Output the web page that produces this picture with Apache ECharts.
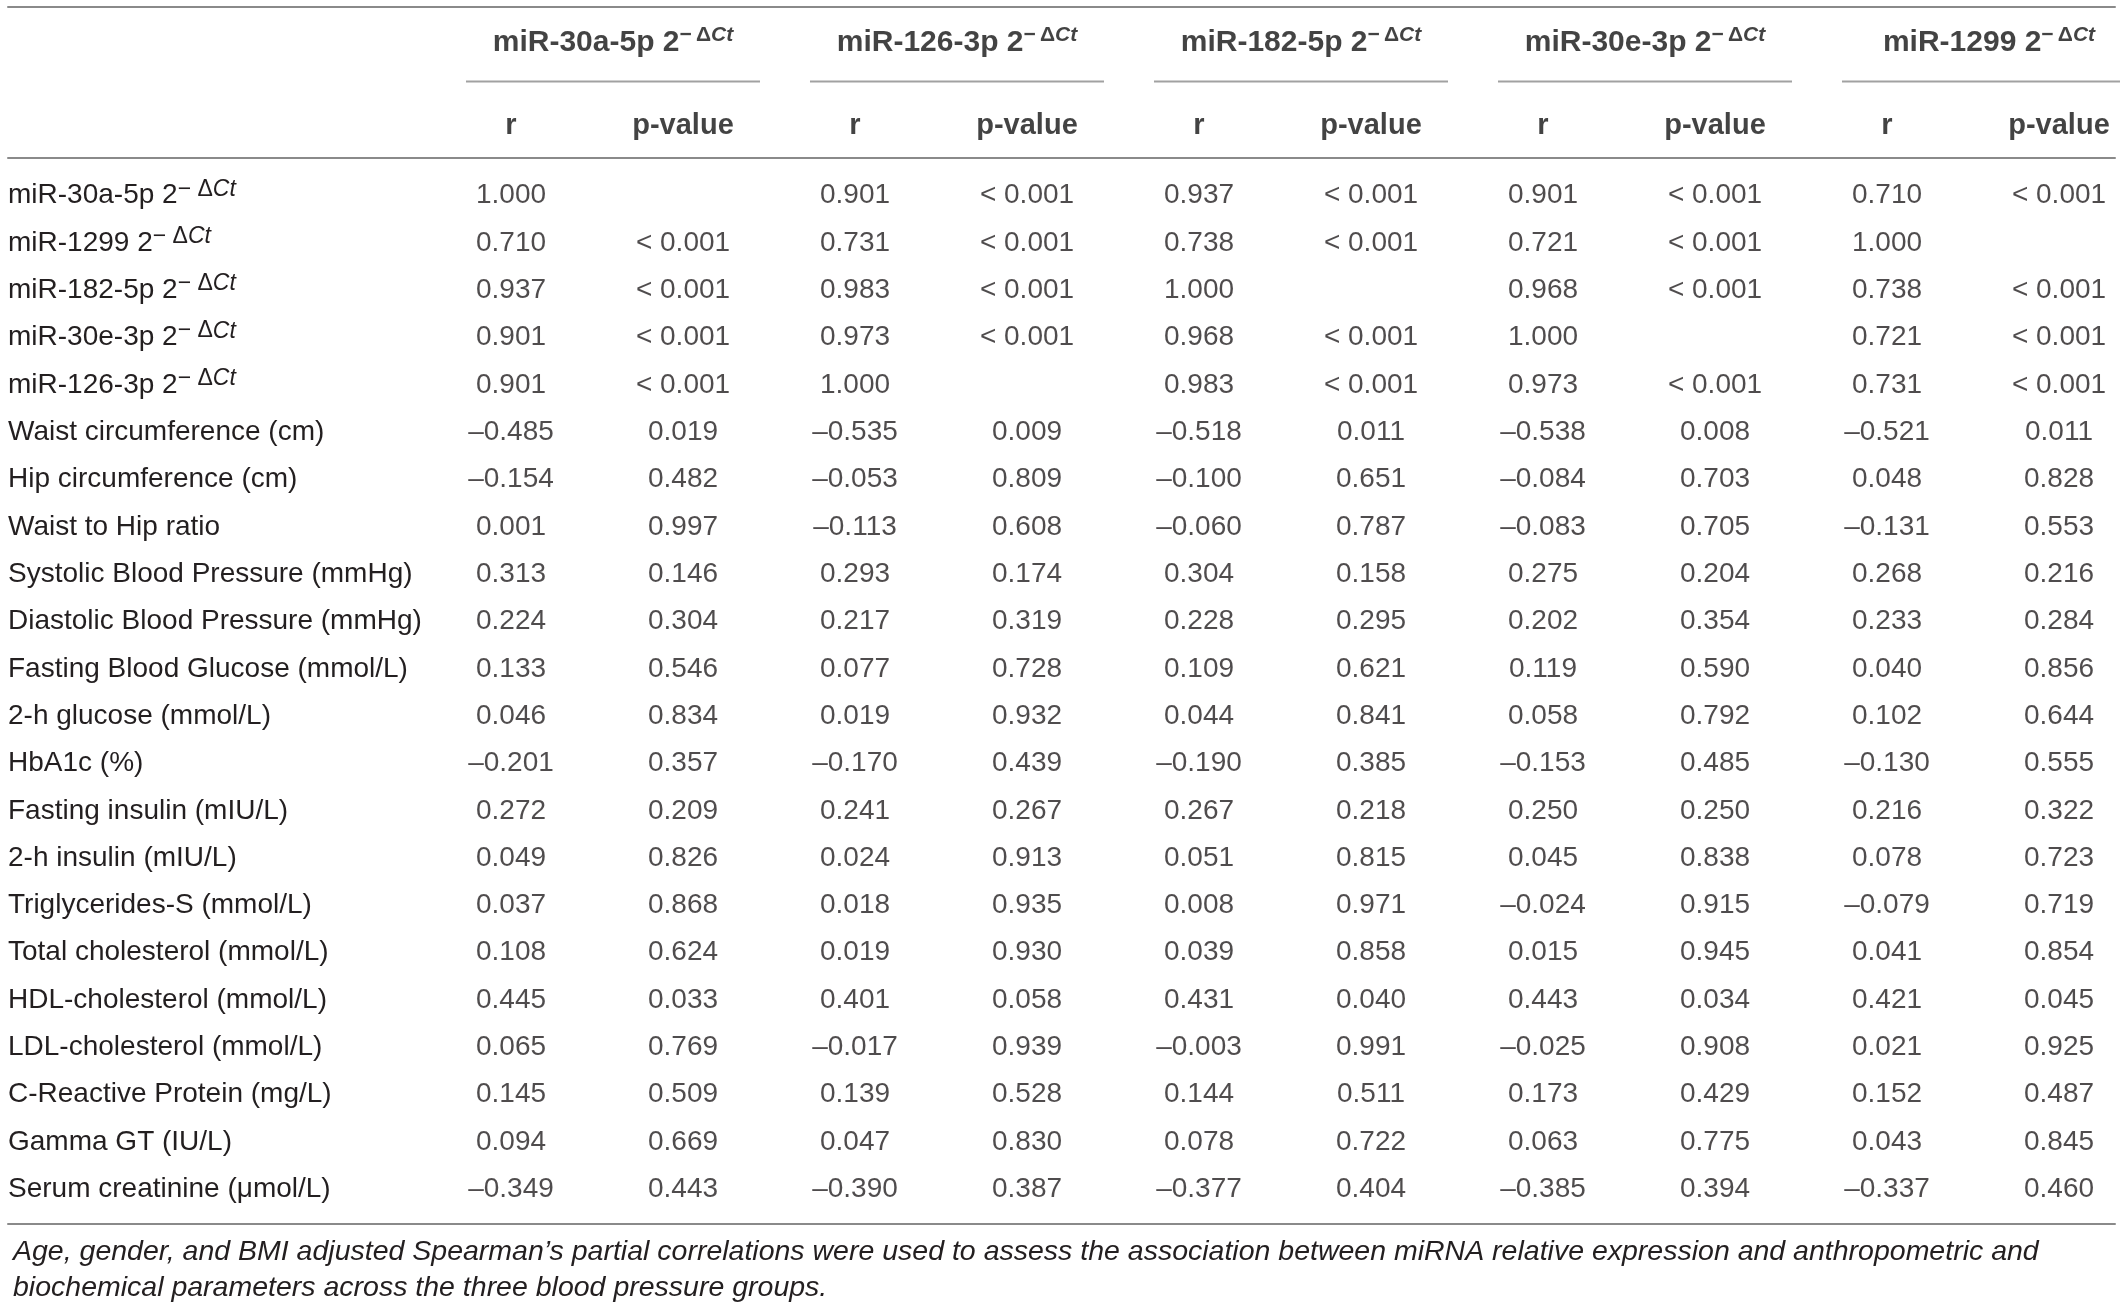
<!DOCTYPE html>
<html>
  <head>
    <meta charset="utf-8" />
    <title>miRNA partial correlations</title>
    <script src="https://cdn.jsdelivr.net/npm/echarts@6/dist/echarts.min.js"></script>
    <style>
      html, body { margin: 0; padding: 0; background: #fff; }
    </style>
  </head>
  <body>
    <div id="main" style="width: 2120px;height: 1309px;"></div>
    <script type="text/javascript">
      // table content
      var groupNames = ['miR-30a-5p', 'miR-126-3p', 'miR-182-5p', 'miR-30e-3p', 'miR-1299']
      var subHeaders = ['r', 'p-value']
      var rowLabels = [
        'miR-30a-5p', 'miR-1299', 'miR-182-5p', 'miR-30e-3p', 'miR-126-3p',
        'Waist circumference (cm)', 'Hip circumference (cm)', 'Waist to Hip ratio',
        'Systolic Blood Pressure (mmHg)', 'Diastolic Blood Pressure (mmHg)',
        'Fasting Blood Glucose (mmol/L)', '2-h glucose (mmol/L)', 'HbA1c (%)',
        'Fasting insulin (mIU/L)', '2-h insulin (mIU/L)', 'Triglycerides-S (mmol/L)',
        'Total cholesterol (mmol/L)', 'HDL-cholesterol (mmol/L)', 'LDL-cholesterol (mmol/L)',
        'C-Reactive Protein (mg/L)', 'Gamma GT (IU/L)', 'Serum creatinine (\u03bcmol/L)'
      ]
      // r per row, one value per miRNA group
      var rValues = [
        [1.000, 0.901, 0.937, 0.901, 0.710],
        [0.710, 0.731, 0.738, 0.721, 1.000],
        [0.937, 0.983, 1.000, 0.968, 0.738],
        [0.901, 0.973, 0.968, 1.000, 0.721],
        [0.901, 1.000, 0.983, 0.973, 0.731],
        [-0.485, -0.535, -0.518, -0.538, -0.521],
        [-0.154, -0.053, -0.100, -0.084, 0.048],
        [0.001, -0.113, -0.060, -0.083, -0.131],
        [0.313, 0.293, 0.304, 0.275, 0.268],
        [0.224, 0.217, 0.228, 0.202, 0.233],
        [0.133, 0.077, 0.109, 0.119, 0.040],
        [0.046, 0.019, 0.044, 0.058, 0.102],
        [-0.201, -0.170, -0.190, -0.153, -0.130],
        [0.272, 0.241, 0.267, 0.250, 0.216],
        [0.049, 0.024, 0.051, 0.045, 0.078],
        [0.037, 0.018, 0.008, -0.024, -0.079],
        [0.108, 0.019, 0.039, 0.015, 0.041],
        [0.445, 0.401, 0.431, 0.443, 0.421],
        [0.065, -0.017, -0.003, -0.025, 0.021],
        [0.145, 0.139, 0.144, 0.173, 0.152],
        [0.094, 0.047, 0.078, 0.063, 0.043],
        [-0.349, -0.390, -0.377, -0.385, -0.337]
      ]
      var pValues = [
        ['', '< 0.001', '< 0.001', '< 0.001', '< 0.001'],
        ['< 0.001', '< 0.001', '< 0.001', '< 0.001', ''],
        ['< 0.001', '< 0.001', '', '< 0.001', '< 0.001'],
        ['< 0.001', '< 0.001', '< 0.001', '', '< 0.001'],
        ['< 0.001', '', '< 0.001', '< 0.001', '< 0.001'],
        ['0.019', '0.009', '0.011', '0.008', '0.011'],
        ['0.482', '0.809', '0.651', '0.703', '0.828'],
        ['0.997', '0.608', '0.787', '0.705', '0.553'],
        ['0.146', '0.174', '0.158', '0.204', '0.216'],
        ['0.304', '0.319', '0.295', '0.354', '0.284'],
        ['0.546', '0.728', '0.621', '0.590', '0.856'],
        ['0.834', '0.932', '0.841', '0.792', '0.644'],
        ['0.357', '0.439', '0.385', '0.485', '0.555'],
        ['0.209', '0.267', '0.218', '0.250', '0.322'],
        ['0.826', '0.913', '0.815', '0.838', '0.723'],
        ['0.868', '0.935', '0.971', '0.915', '0.719'],
        ['0.624', '0.930', '0.858', '0.945', '0.854'],
        ['0.033', '0.058', '0.040', '0.034', '0.045'],
        ['0.769', '0.939', '0.991', '0.908', '0.925'],
        ['0.509', '0.528', '0.511', '0.429', '0.487'],
        ['0.669', '0.830', '0.722', '0.775', '0.845'],
        ['0.443', '0.387', '0.404', '0.394', '0.460']
      ]
      var footnote = 'Age, gender, and BMI adjusted Spearman\u2019s partial correlations were used to assess the association between miRNA relative expression and anthropometric and\n' +
        'biochemical parameters across the three blood pressure groups.'

      var FONT = '"Liberation Sans", Arial, Helvetica, sans-serif'
      var INK = '#231f20'
      var HEAD = '#141414'
      var RULE = '#8a8a8a'
      // column i sits at x = i; label column lives left of 0
      var xMin = -2.9244
      var xMax = 9.3256

      function fmtR(v) {
        return v.toFixed(3).replace('-', '\u2013')
      }

      var cells = []
      rowLabels.forEach(function (name, i) {
        groupNames.forEach(function (g, k) {
          cells.push([2 * k, name, fmtR(rValues[i][k])])
          if (pValues[i][k]) cells.push([2 * k + 1, name, pValues[i][k]])
        })
      })
      var subCells = []
      for (var j = 0; j < groupNames.length * 2; j++) {
        subCells.push([j, 'sub', subHeaders[j % 2]])
      }
      var titleCells = groupNames.map(function (g, k) { return [2 * k + 0.5, 'title', g] })
      var ruleCells = groupNames.map(function (g, k) { return [2 * k + 0.5, 'rule'] })

      var supRich = {
        n: { fontFamily: FONT, fontSize: 28, lineHeight: 36, color: INK },
        s: { fontFamily: FONT, fontSize: 23, lineHeight: 10, verticalAlign: 'top', color: INK },
        c: { fontFamily: FONT, fontSize: 23, lineHeight: 10, verticalAlign: 'top', fontStyle: 'italic', color: INK }
      }
      var headRich = {
        n: { fontFamily: FONT, fontSize: 30, fontWeight: 'bold', lineHeight: 36, color: HEAD },
        s: { fontFamily: FONT, fontSize: 21, fontWeight: 'bold', lineHeight: 9, verticalAlign: 'top', color: HEAD },
        c: { fontFamily: FONT, fontSize: 21, fontWeight: 'bold', lineHeight: 9, verticalAlign: 'top', fontStyle: 'italic', color: HEAD }
      }
      function withSup(name, gap) {
        return '{n|' + name + ' 2}{s|\u2212' + gap + '\u0394}{c|Ct}'
      }

      function hiddenX(grid, extra) {
        var ax = {
          type: 'value', gridIndex: grid, min: xMin, max: xMax,
          axisLabel: { show: false }, axisTick: { show: false }, splitLine: { show: false },
          axisLine: { show: true, onZero: false, lineStyle: { color: RULE, width: 2 } }
        }
        for (var key in extra) ax[key] = extra[key]
        return ax
      }

      var myChart = echarts.init(document.getElementById('main'), null, { renderer: 'canvas' })
      var option = {
        backgroundColor: '#fff',
        animation: false,
        title: {
          text: footnote,
          left: 8,
          top: 1229,
          textStyle: { fontFamily: FONT, fontSize: 28.5, fontStyle: 'italic', fontWeight: 'normal', lineHeight: 36, color: INK }
        },
        grid: [
          { left: 8, width: 2107, top: 172, height: 1041 },
          { left: 8, width: 2107, top: 40, height: 83 }
        ],
        xAxis: [
          hiddenX(0, { position: 'top', offset: 14 }),
          hiddenX(0, { position: 'bottom', offset: 11 }),
          hiddenX(1, { position: 'top', offset: 33 })
        ],
        yAxis: [
          {
            type: 'category', gridIndex: 0, data: rowLabels, inverse: true,
            axisLine: { show: false }, axisTick: { show: false }, splitLine: { show: false },
            axisLabel: {
              inside: true, margin: 0, color: INK, fontFamily: FONT, fontSize: 28,
              formatter: function (v) {
                return v.indexOf('miR-') === 0 ? withSup(v, ' ') : '{n|' + v + '}'
              },
              rich: supRich
            }
          },
          {
            type: 'category', gridIndex: 1, data: ['title', 'rule', 'sub'], inverse: true, boundaryGap: false,
            show: false
          }
        ],
        series: [
          {
            type: 'scatter', xAxisIndex: 0, yAxisIndex: 0, data: cells,
            symbolSize: 1, itemStyle: { color: 'rgba(0,0,0,0)' }, silent: true,
            label: {
              show: true, position: 'inside', align: 'center', verticalAlign: 'middle',
              fontFamily: FONT, fontSize: 28, color: INK,
              formatter: function (p) { return p.value[2] }
            }
          },
          {
            type: 'scatter', xAxisIndex: 2, yAxisIndex: 1, data: subCells,
            symbolSize: 1, itemStyle: { color: 'rgba(0,0,0,0)' }, silent: true,
            label: {
              show: true, position: 'inside', align: 'center', verticalAlign: 'middle', offset: [0, 3],
              fontFamily: FONT, fontSize: 29, fontWeight: 'bold', color: HEAD,
              formatter: function (p) { return p.value[2] }
            }
          },
          {
            type: 'scatter', xAxisIndex: 2, yAxisIndex: 1, data: titleCells,
            symbolSize: 1, itemStyle: { color: 'rgba(0,0,0,0)' }, silent: true,
            label: {
              show: true, position: 'inside', align: 'center', verticalAlign: 'middle', offset: [16, 3],
              formatter: function (p) { return withSup(p.value[2], '\u2009') },
              rich: headRich
            }
          },
          {
            type: 'scatter', xAxisIndex: 2, yAxisIndex: 1, data: ruleCells,
            symbol: 'rect', symbolSize: [294, 2], symbolOffset: [16, 0],
            itemStyle: { color: RULE }, silent: true
          }
        ]
      }
      myChart.setOption(option)
    </script>
  </body>
</html>
